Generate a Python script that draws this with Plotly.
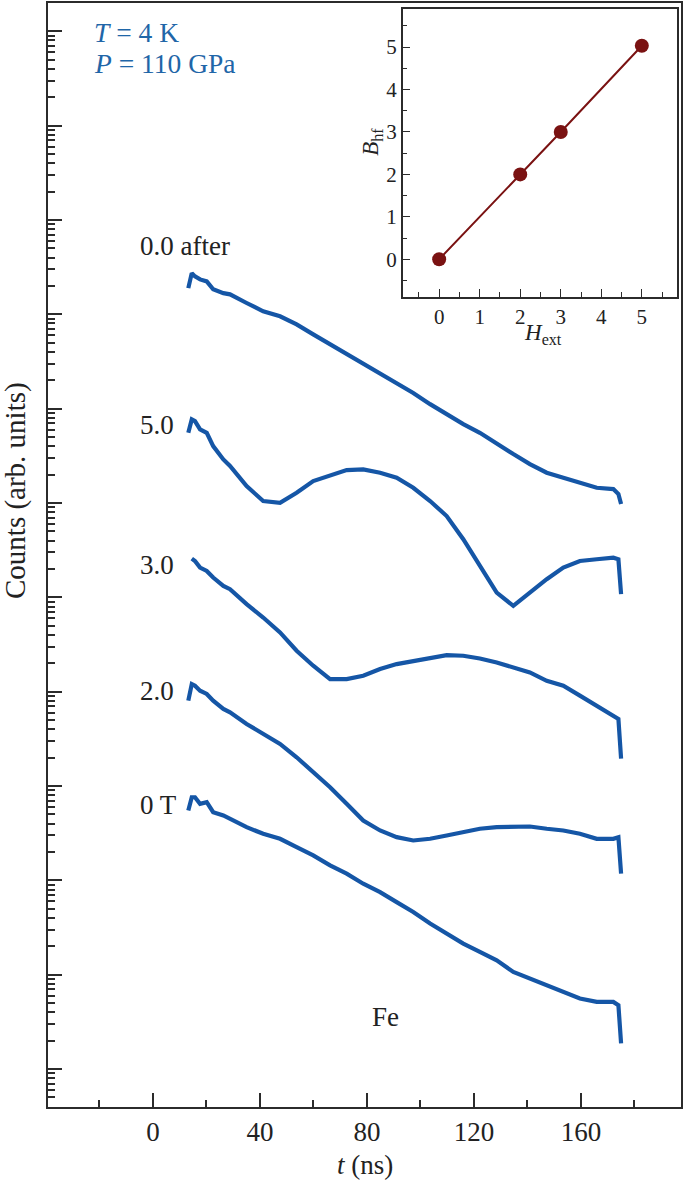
import plotly.graph_objects as go

# ---------------- data ----------------
t_ns = [13.2, 14.5, 15.7, 17.6, 20.1, 22.5, 26.3, 28.8, 35.0, 41.2, 47.5, 53.7, 59.9,
        66.2, 72.4, 78.6, 84.9, 91.1, 97.3, 103.6, 109.8, 116.0, 122.2, 128.5, 134.7,
        140.9, 147.2, 153.4, 159.6, 165.9, 172.1, 174.0, 175.0]

# log10 of counts (arb. units), vertically offset spectra
log_after = [8.278, 8.437, 8.402, 8.370, 8.349, 8.265, 8.225, 8.212, 8.120, 8.032, 7.979,
             7.894, 7.788, 7.683, 7.577, 7.485, 7.379, 7.273, 7.167, 7.048, 6.942, 6.836,
             6.744, 6.624, 6.519, 6.413, 6.321, 6.268, 6.215, 6.162, 6.148, 6.095, 5.99]
log_5T = [6.744, 6.886, 6.868, 6.780, 6.744, 6.603, 6.462, 6.392, 6.180, 6.021, 6.003,
          6.109, 6.233, 6.286, 6.349, 6.357, 6.321, 6.268, 6.162, 6.021, 5.862, 5.616,
          5.333, 5.051, 4.910, 5.051, 5.193, 5.315, 5.386, 5.404, 5.421, 5.404, 5.034]
log_3T = [None, 5.411, 5.386, 5.315, 5.280, 5.210, 5.122, 5.087, 4.928, 4.786, 4.628,
          4.434, 4.275, 4.134, 4.134, 4.169, 4.240, 4.293, 4.328, 4.363, 4.388, 4.381,
          4.352, 4.310, 4.257, 4.204, 4.116, 4.063, 3.958, 3.852, 3.746, 3.711, 3.291]
log_2T = [3.905, 4.081, 4.063, 4.011, 3.976, 3.905, 3.817, 3.781, 3.658, 3.552, 3.447,
          3.305, 3.146, 2.987, 2.812, 2.635, 2.529, 2.458, 2.423, 2.441, 2.476, 2.511,
          2.547, 2.564, 2.564, 2.571, 2.547, 2.529, 2.494, 2.441, 2.441, 2.458, 2.071]
log_0T = [2.741, 2.881, 2.881, 2.812, 2.829, 2.723, 2.688, 2.653, 2.564, 2.494, 2.441,
          2.352, 2.265, 2.159, 2.071, 1.965, 1.876, 1.770, 1.665, 1.542, 1.436, 1.330,
          1.241, 1.153, 1.030, 0.960, 0.889, 0.818, 0.748, 0.712, 0.712, 0.677, 0.272]

series_labels = ["0.0 after", "5.0", "3.0", "2.0", "0 T"]

# inset: hyperfine field vs external field
H_ext = [0, 2, 3, 5]
B_hf = [0, 2, 3, 5.03]

x_ticks = [0, 40, 80, 120, 160]
inset_ticks = [0, 1, 2, 3, 4, 5]

# ---------------- figure ----------------
BLUE = "#1556a6"
DARKRED = "#7a1212"
AX = "#2b2b2b"
FONT = "Liberation Serif"

fig = go.Figure()

for logs in [log_after, log_5T, log_3T, log_2T, log_0T]:
    y = [None if v is None else 10 ** v for v in logs]
    fig.add_trace(go.Scatter(x=t_ns, y=y, mode="lines",
                             line=dict(color=BLUE, width=4.2),
                             connectgaps=False, showlegend=False,
                             xaxis="x", yaxis="y"))

fig.add_trace(go.Scatter(x=H_ext, y=B_hf, mode="lines+markers",
                         line=dict(color=DARKRED, width=2),
                         marker=dict(color=DARKRED, size=14),
                         showlegend=False, xaxis="x2", yaxis="y2"))

fig.update_layout(
    width=685, height=1181,
    margin=dict(l=48, r=4, t=1, b=74),
    paper_bgcolor="white", plot_bgcolor="white",
    font=dict(family=FONT, size=27, color="#222"),
    xaxis=dict(domain=[0, 1], range=[-39.25, 197.4], tickvals=x_ticks,
               ticks="inside", ticklen=14, tickwidth=1.5, tickcolor=AX,
               minor=dict(dtick=20, tick0=0, ticks="inside", ticklen=7,
                          tickwidth=1.5, tickcolor=AX),
               showline=True, linecolor=AX, linewidth=2, mirror=True,
               showgrid=False, zeroline=False,
               tickfont=dict(family=FONT, size=27, color="#222")),
    yaxis=dict(domain=[0, 1], type="log", range=[-0.402, 11.30], dtick=1,
               ticks="inside", ticklen=14, tickwidth=1.5, tickcolor=AX,
               minor=dict(dtick="D1", ticks="inside", ticklen=7,
                          tickwidth=1.5, tickcolor=AX),
               showticklabels=False,
               showline=True, linecolor=AX, linewidth=2, mirror=True,
               showgrid=False, zeroline=False),
    xaxis2=dict(domain=[0.5603, 0.9932], anchor="y2", range=[-0.9, 5.86],
                tickvals=inset_ticks, ticks="inside", ticklen=8, tickwidth=1.3,
                tickcolor=AX,
                minor=dict(dtick=0.5, tick0=0, ticks="inside", ticklen=5,
                           tickwidth=1.3, tickcolor=AX),
                showline=True, linecolor=AX, linewidth=1.5, mirror=True,
                showgrid=False, zeroline=False,
                tickfont=dict(family=FONT, size=21, color="#222")),
    yaxis2=dict(domain=[0.7335, 0.9943], anchor="x2", range=[-0.894, 5.89],
                tickvals=inset_ticks, ticks="inside", ticklen=8, tickwidth=1.3,
                tickcolor=AX,
                minor=dict(dtick=0.5, tick0=0, ticks="inside", ticklen=5,
                           tickwidth=1.3, tickcolor=AX),
                showline=True, linecolor=AX, linewidth=1.5, mirror=True,
                showgrid=False, zeroline=False,
                tickfont=dict(family=FONT, size=21, color="#222")),
)

ann = []
label_y = [0.7803, 0.6175, 0.4905, 0.3770, 0.2731]
for txt, yy in zip(series_labels, label_y):
    ann.append(dict(text=txt, x=0.1417, y=yy, xref="paper", yref="paper",
                    xanchor="left", yanchor="middle", showarrow=False,
                    font=dict(family=FONT, size=27, color="#222")))
ann += [
    dict(text="Fe", x=0.5324, y=0.0814, xref="paper", yref="paper",
         xanchor="center", yanchor="middle", showarrow=False,
         font=dict(family=FONT, size=27, color="#222")),
    dict(text="<i>T</i> = 4 K", x=0.069, y=0.9729, xref="paper", yref="paper",
         xanchor="left", yanchor="middle", showarrow=False,
         font=dict(family=FONT, size=27.5, color="#1f66a8")),
    dict(text="<i>P</i> = 110 GPa", x=0.069, y=0.9448, xref="paper", yref="paper",
         xanchor="left", yanchor="middle", showarrow=False,
         font=dict(family=FONT, size=27.5, color="#1f66a8")),
    dict(text="Counts (arb. units)", x=-0.0505, y=0.558, xref="paper", yref="paper",
         xanchor="center", yanchor="middle", textangle=-90, showarrow=False,
         font=dict(family=FONT, size=29, color="#222")),
    dict(text="<i>t</i> (ns)", x=0.5008, y=-0.0524, xref="paper", yref="paper",
         xanchor="center", yanchor="middle", showarrow=False,
         font=dict(family=FONT, size=27, color="#222")),
    dict(text="<i>H</i><sub>ext</sub>", x=0.782, y=0.6998, xref="paper", yref="paper",
         xanchor="center", yanchor="middle", showarrow=False,
         font=dict(family=FONT, size=23, color="#222")),
    dict(text="<i>B</i><sub>hf</sub>", x=0.5118, y=0.8743, xref="paper", yref="paper",
         xanchor="center", yanchor="middle", textangle=-90, showarrow=False,
         font=dict(family=FONT, size=23, color="#222")),
]
fig.update_layout(annotations=ann)

fig.write_html("out.html",
               config={"displayModeBar": False},
               post_script="document.body.style.margin='0px';"
                           "document.documentElement.style.overflow='hidden';")
